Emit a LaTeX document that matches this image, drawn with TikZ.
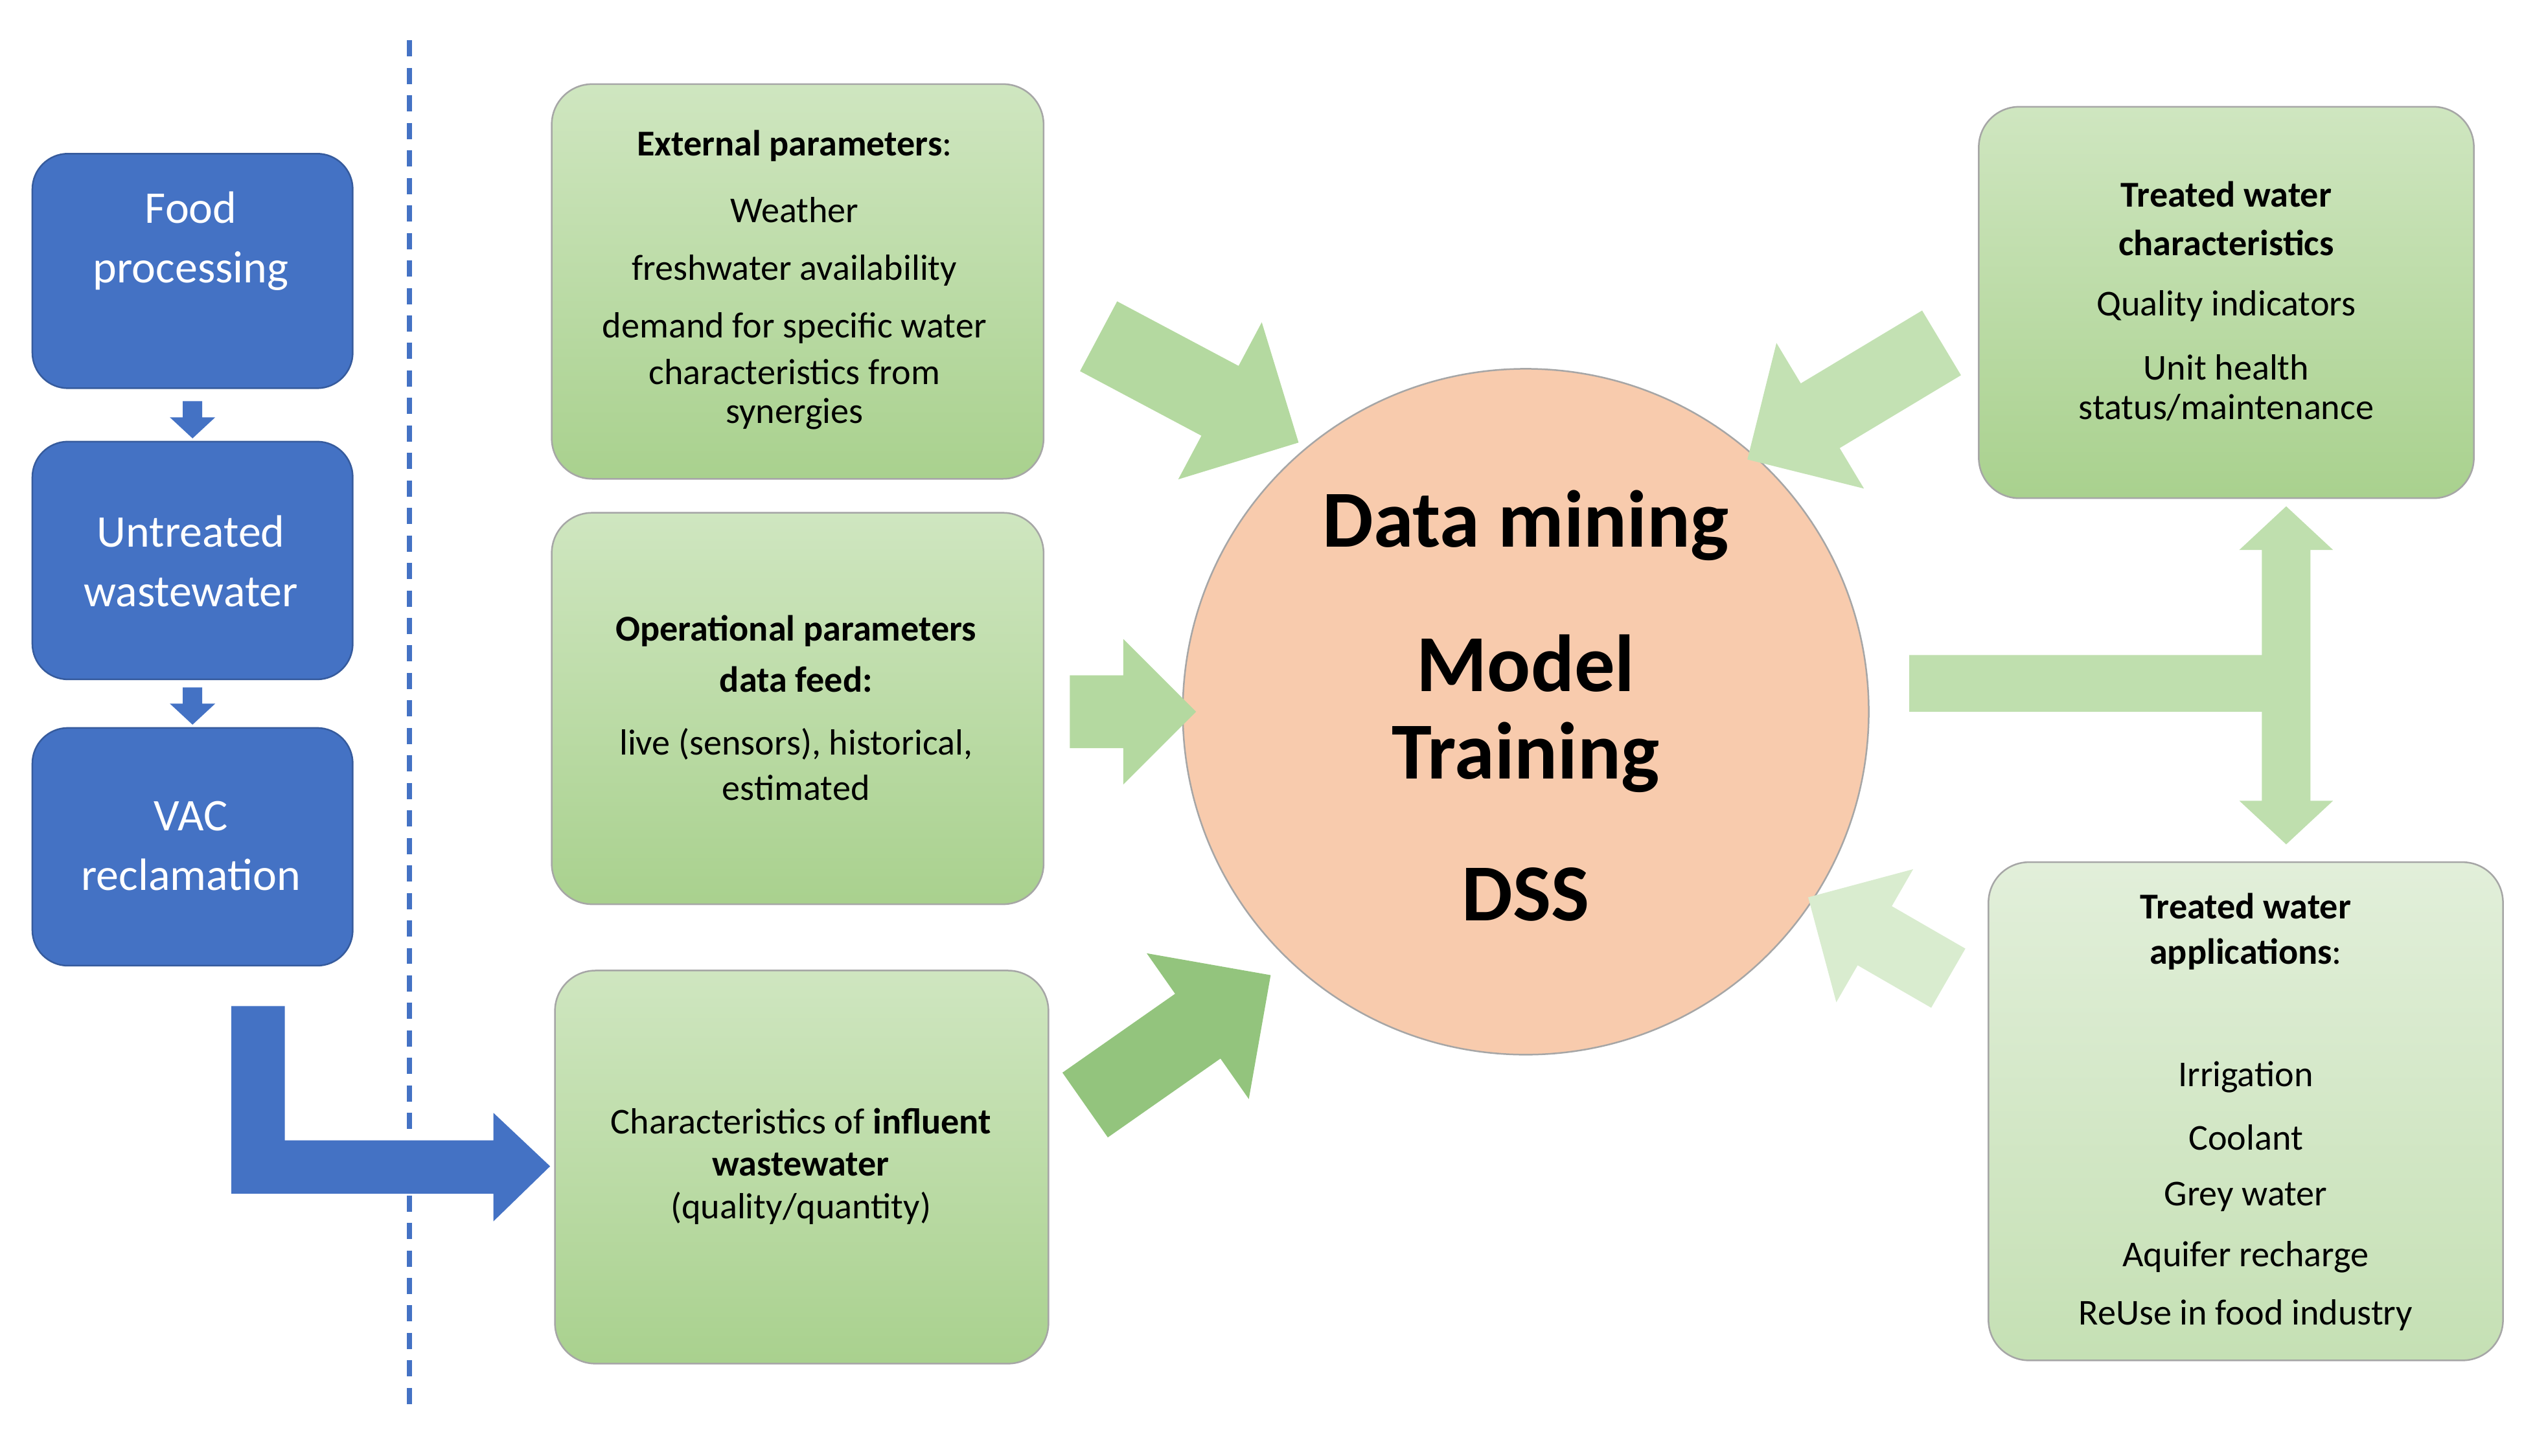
\documentclass[tikz,border=0pt]{standalone}
\usepackage{fontspec}
\setmainfont{Carlito}
\usetikzlibrary{shapes.arrows}
\definecolor{vblue}{HTML}{4472C4}
\definecolor{gtop}{HTML}{CFE6C0}
\definecolor{gbot}{HTML}{A9D18E}
\definecolor{gtopl}{HTML}{E2EFDA}
\definecolor{gbotl}{HTML}{C5E0B4}
\definecolor{circ}{HTML}{F8CBAD}
\definecolor{arr}{HTML}{B4D9A0}
\definecolor{arrd}{HTML}{93C47D}
\begin{document}
\begin{tikzpicture}[x=1pt,y=-1pt,
  bbox/.style={fill=vblue,draw=vblue!80!black,rounded corners=22pt,line width=1pt},
  gbox/.style={top color=gtop,bottom color=gbot,draw=gray!70,rounded corners=25pt,line width=1pt},
  gboxl/.style={top color=gtopl,bottom color=gbotl,draw=gray!70,rounded corners=25pt,line width=1pt},
  wt/.style={text=white,font=\fontsize{28}{37}\selectfont,align=center},
  t/.style={font=\fontsize{22.5}{25}\selectfont,inner sep=0pt},
  tb/.style={font=\fontsize{22.5}{25}\selectfont\bfseries,inner sep=0pt},
  big/.style={font=\fontsize{50}{56}\selectfont\bfseries,inner sep=0pt},
  fat/.style={single arrow,draw=none,inner sep=0pt,single arrow head extend=#1},
]
\useasboundingbox (0,0) rectangle (1560,900);
\draw[vblue,line width=3pt,dash pattern=on 10pt off 7pt] (253,25) -- (253,875);
% blue boxes
\draw[bbox] (20,95) rectangle (218,240);
\draw[bbox] (20,273) rectangle (218,420);
\draw[bbox] (20,450) rectangle (218,597);
\node[wt] (food) at (118,149) {Food\\processing};
\node[wt] (untr) at (118,347) {Untreated\\wastewater};
\node[wt] (vac) at (118,523) {VAC\\reclamation};
\fill[vblue] (113,248) -- (125,248) -- (125,258) -- (133,258) -- (119,271) -- (105,258) -- (113,258) -- cycle;
\fill[vblue] (113,425) -- (125,425) -- (125,435) -- (133,435) -- (119,448) -- (105,435) -- (113,435) -- cycle;
\fill[vblue] (143,622) -- (176,622) -- (176,705) -- (305,705) -- (305,688) -- (340,721) -- (305,755) -- (305,738) -- (143,738) -- cycle;
% green boxes
\draw[gbox] (341,52) rectangle (645,296);
\draw[gbox] (341,317) rectangle (645,559);
\draw[gbox] (343,600) rectangle (648,843);
\draw[gbox] (1223,66) rectangle (1529,308);
\draw[gboxl] (1229,533) rectangle (1547,841);
% circle
\draw[fill=circ,draw=gray!70,line width=1pt] (943,440) circle (212);
% arrows
\node[fat=0.25,fill=arr,minimum width=110,minimum height=140,rotate=-28] (a1) at (730,235) {};
\node[fat=0.2,fill=arr,minimum width=90,minimum height=78] (a2) at (689,440) {};
\node[fat=0.25,fill=arrd,minimum width=110,minimum height=140,rotate=35] (a3) at (718,650) {};
\node[fat=0.25,fill=arr!80!white,minimum width=105,minimum height=140,rotate=211] (a4) at (1150,242) {};
\node[fat=0.25,fill=arr!50!white,minimum width=95,minimum height=100,rotate=150] (a5) at (1170,585) {};
\fill[arr!85!white] (1180,405) -- (1398,405) -- (1398,340) -- (1384,340) -- (1413,313) -- (1442,340) -- (1428,340)
  -- (1428,495) -- (1442,495) -- (1413,522) -- (1384,495) -- (1398,495) -- (1398,440) -- (1180,440) -- cycle;
% texts
\node[tb] at (491,90) {External parameters\textmd{:}};
\node[t] at (491,130) {Weather};
\node[t] at (491,167) {freshwater availability};
\node[t] at (491,203) {demand for specific water};
\node[t] at (491,230) {characteristics from};
\node[t] at (491,256) {synergies};
\node[tb] at (492,390) {Operational parameters};
\node[tb] at (492,420) {data feed:};
\node[t] at (492,460) {live (sensors), historical,};
\node[t] at (492,487) {estimated};
\node[t] at (495,693) {Characteristics of \textbf{influent}};
\node[tb] at (495,720) {wastewater};
\node[t] at (495,747) {(quality/quantity)};
\node[tb] at (1376,120) {Treated water};
\node[tb] at (1376,150) {characteristics};
\node[t] at (1376,189) {Quality indicators};
\node[t] at (1376,227) {Unit health};
\node[t] at (1376,252) {status/maintenance};
\node[tb] at (1388,560) {Treated water};
\node[tb] at (1388,590) {applications\textmd{:}};
\node[t] at (1388,666) {Irrigation};
\node[t] at (1388,703) {Coolant};
\node[t] at (1388,740) {Grey water};
\node[t] at (1388,777) {Aquifer recharge};
\node[t] at (1388,813) {ReUse in food industry};
\node[big] at (943,325) {Data mining};
\node[big] at (943,410) {Model};
\node[big] at (943,468) {Training};
\node[big] at (943,553) {DSS};
\end{tikzpicture}
\end{document}
